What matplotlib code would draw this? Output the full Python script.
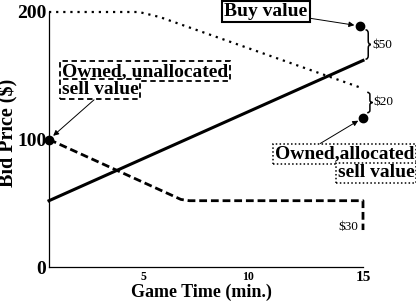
import matplotlib
matplotlib.use('Agg')
import matplotlib.pyplot as plt
from matplotlib.path import Path
from matplotlib.patches import PathPatch

plt.rcParams['font.family'] = ['Liberation Serif', 'DejaVu Serif']

# Data
buy_x = [0, 15]
buy_y = [52, 162]                     # solid line
alloc_x = [0, 4.3, 5.3, 15]
alloc_y = [200, 200, 196, 140]        # dotted line
unalloc_x = [0, 6.3, 6.7, 15, 15]
unalloc_y = [100, 53, 52, 52, 29]     # dashed line

buy_pt = (14.85, 189)
alloc_pt = (15, 117)
unalloc_pt = (0, 100)

ytick_vals = [0, 100, 200]
xtick_pos = [4.5, 9.5, 15]
xtick_labels = ['5', '10', '15']

fig = plt.figure(figsize=(4.16, 3.04), dpi=100)
ax = fig.add_axes([49 / 416, 37 / 304, 314 / 416, 255 / 304])
ax.set_xlim(0, 15)
ax.set_ylim(0, 200)
for s in ['top', 'right']:
    ax.spines[s].set_visible(False)
for s in ['left', 'bottom']:
    ax.spines[s].set_linewidth(0.9)

ax.plot(buy_x, buy_y, color='k', lw=2.2, clip_on=False)
ax.plot(alloc_x, alloc_y, color='k', lw=1.6, ls=(0, (1, 2.2)), clip_on=False)
ax.plot(unalloc_x, unalloc_y, color='k', lw=2.0, ls=(0, (2.8, 1.4)), clip_on=False)
for p in [buy_pt, alloc_pt, unalloc_pt]:
    ax.plot(p[0], p[1], 'o', color='k', ms=6, clip_on=False, zorder=5)

ax.set_yticks(ytick_vals)
ax.set_yticklabels([str(v) for v in ytick_vals], fontsize=14, fontweight='bold')
ax.set_xticks(xtick_pos)
ax.set_xticklabels(xtick_labels)
for lab, fs in zip(ax.get_xticklabels(), [8.5, 8.5, 11]):
    lab.set_fontsize(fs)
    lab.set_fontweight('bold')
ax.tick_params(axis='both', length=0)
ax.tick_params(axis='y', pad=2)
ax.tick_params(axis='x', pad=3)

ax.set_xlabel('Game Time (min.)', fontsize=13, fontweight='bold')
ax.set_ylabel('Bid Price ($)', fontsize=14.5, fontweight='bold')
ax.xaxis.set_label_coords(0.486, -0.098)
ax.xaxis.label.set_va('center')
ax.yaxis.set_label_coords(-0.128, 0.527)
ax.yaxis.label.set_va('center')

# annotations
txt = dict(fontsize=14, fontweight='bold', clip_on=False)
arrow = dict(arrowstyle='-|>', color='k', lw=0.7, mutation_scale=8, shrinkA=0, shrinkB=4)

ax.annotate('Buy value', xy=buy_pt, xytext=(10.35, 200.5), ha='center', va='center',
            bbox=dict(boxstyle='square,pad=0.12', fc='white', ec='k', lw=1.5),
            arrowprops=arrow, annotation_clip=False, **txt)

ax.text(0.62, 153.5, 'Owned, unallocated', ha='left', va='center',
        bbox=dict(boxstyle='square,pad=0.08', fc='white', ec='k', lw=1.3, ls=(0, (3, 2))), **txt)
ax.annotate('sell value', xy=unalloc_pt, xytext=(0.62, 139.5), ha='left', va='center',
            bbox=dict(boxstyle='square,pad=0.08', fc='white', ec='k', lw=1.3, ls=(0, (3, 2))),
            arrowprops=dict(arrow, relpos=(0.45, 0)), annotation_clip=False, **txt)

ax.annotate('Owned,allocated', xy=alloc_pt, xytext=(17.45, 88.5), ha='right', va='center',
            bbox=dict(boxstyle='square,pad=0.08', fc='white', ec='k', lw=1.1, ls=(0, (1, 1.5))),
            arrowprops=dict(arrow, relpos=(0.3, 1)), annotation_clip=False, **txt)
ax.text(17.45, 74, 'sell value', ha='right', va='center',
        bbox=dict(boxstyle='square,pad=0.08', fc='white', ec='k', lw=1.1, ls=(0, (1, 1.5))), **txt)


def brace(x0, y_lo, y_hi, w=0.13):
    ym = (y_lo + y_hi) / 2
    r = (y_hi - y_lo) * 0.12
    verts = [(x0, y_hi), (x0 + w, y_hi), (x0 + w, y_hi - r),
             (x0 + w, ym + r),
             (x0 + w, ym), (x0 + 2 * w, ym),
             (x0 + 2 * w, ym), (x0 + w, ym), (x0 + w, ym - r),
             (x0 + w, y_lo + r),
             (x0 + w, y_lo), (x0, y_lo)]
    codes = [Path.MOVETO, Path.CURVE3, Path.CURVE3, Path.LINETO,
             Path.CURVE3, Path.CURVE3,
             Path.MOVETO, Path.CURVE3, Path.CURVE3,
             Path.LINETO, Path.CURVE3, Path.CURVE3]
    ax.add_patch(PathPatch(Path(verts, codes), fc='none', ec='k', lw=1.1, clip_on=False))


brace(15.12, buy_y[-1] + 1, buy_pt[1] - 3)
ax.text(15.45, (buy_y[-1] + buy_pt[1]) / 2 - 1, '$50', fontsize=9.5, ha='left', va='center', clip_on=False)
brace(15.2, alloc_pt[1] + 4, alloc_y[-1] - 3)
ax.text(15.5, (alloc_pt[1] + alloc_y[-1]) / 2 + 1, '$20', fontsize=9.5, ha='left', va='center', clip_on=False)
ax.text(14.75, unalloc_y[-1] + 2, '$30', fontsize=9.5, ha='right', va='center', clip_on=False)

plt.savefig('out.png', dpi=100)
plt.close()
